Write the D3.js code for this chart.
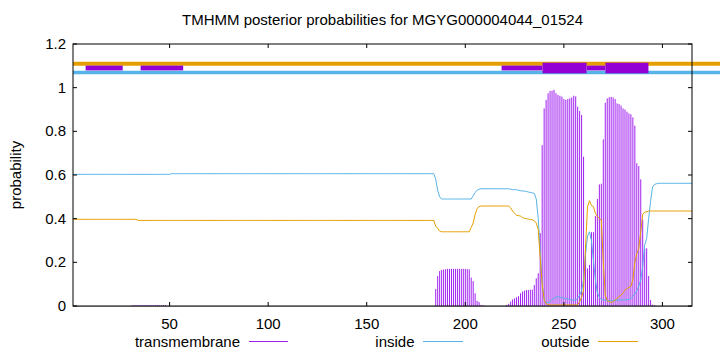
<!DOCTYPE html>
<html><head><meta charset="utf-8">
<script src="https://cdn.jsdelivr.net/npm/d3@7"></script>
<style>
html,body{margin:0;padding:0;background:#fff;}
svg{display:block;font-family:"Liberation Sans",Arial,sans-serif;}
</style></head>
<body><svg id="c" width="720" height="352"></svg>
<script>
const title = "TMHMM posterior probabilities for MGYG000004044_01524";
const xTicks = [50,100,150,200,250,300];
const yTicks = [0,0.2,0.4,0.6,0.8,1,1.2];
const legendNames = ["transmembrane","inside","outside"];

// per-residue transmembrane probability (residues 1..315)
const transmembrane = [
0,0,0,0,0,0,0,0,0,0,
0,0,0,0,0,0,0,0,0,0,
0,0,0,0,0,0,0,0,0,0,
.004,.004,.004,.004,.004,.004,.004,.004,.004,.004,
.004,.004,.004,.004,.004,.004,.004,.004,0,0,
0,0,0,0,0,0,0,0,0,0,
0,0,0,0,0,0,0,0,0,0,
0,0,0,0,0,0,0,0,0,0,
0,0,0,0,0,0,0,0,0,0,
0,0,0,0,0,0,0,0,0,0,
0,0,0,0,0,0,0,0,0,0,
0,0,0,0,0,0,0,0,0,0,
0,0,0,0,0,0,0,0,0,0,
0,0,0,0,0,0,0,0,0,0,
0,0,0,0,0,0,0,0,0,0,
0,0,0,0,0,0,0,0,0,0,
0,0,0,0,0,0,0,0,0,0,
0,0,0,0,0,0,0,0,0,0,
0,0,0,0,.078,.137,.16,.165,.167,.168,
.17,.17,.17,.17,.17,.17,.17,.17,.17,.17,
.169,.168,.13,.114,.058,.024,.018,.005,.003,.001,
0,0,0,0,0,0,0,0,0,0,
.005,.01,.02,.03,.035,.04,.045,.058,.066,.07,
.073,.073,.075,.075,.096,.127,.15,.334,.737,.905,
.944,.974,.985,.986,.99,.975,.967,.963,.959,.948,
.944,.948,.951,.955,.963,.96,.913,.893,.875,.684,
.276,.172,.188,.338,.338,.412,.49,.557,.56,.763,
.931,.951,.956,.958,.955,.948,.928,.925,.918,.905,
.9,.89,.882,.878,.864,.826,.654,.641,.58,.397,
.264,.264,.137,.027,.006,.003,0,0,0,0,
0,0,0,0,0,0,0,0,0,0,
0,0,0,0,0
];

// per-residue inside probability
const inside = [
.603,.603,.603,.603,.603,.603,.603,.603,.603,.603,
.603,.603,.603,.603,.603,.603,.603,.603,.603,.603,
.603,.603,.603,.603,.603,.603,.603,.603,.603,.603,
.603,.603,.603,.603,.603,.603,.603,.603,.603,.603,
.603,.603,.603,.603,.603,.603,.603,.603,.603,.603,
.606,.606,.606,.606,.606,.606,.606,.606,.606,.606,
.606,.606,.606,.606,.606,.606,.606,.606,.606,.606,
.606,.606,.606,.606,.606,.606,.606,.606,.606,.606,
.606,.606,.606,.606,.606,.606,.606,.606,.606,.606,
.606,.606,.606,.606,.606,.606,.606,.606,.606,.606,
.606,.606,.606,.606,.606,.606,.606,.606,.606,.606,
.606,.606,.606,.606,.606,.606,.606,.606,.606,.606,
.606,.606,.606,.606,.606,.606,.606,.606,.606,.606,
.606,.606,.606,.606,.606,.606,.606,.606,.606,.606,
.606,.606,.606,.606,.606,.606,.606,.606,.606,.606,
.606,.606,.606,.606,.606,.606,.606,.606,.606,.606,
.606,.606,.606,.606,.606,.606,.606,.606,.606,.606,
.606,.606,.606,.606,.606,.606,.606,.606,.606,.606,
.606,.606,.606,.606,.58,.53,.5,.49,.49,.49,
.49,.49,.49,.49,.49,.49,.49,.49,.49,.49,
.49,.49,.49,.505,.52,.53,.535,.537,.537,.537,
.537,.537,.537,.537,.537,.537,.537,.537,.537,.537,
.537,.537,.535,.533,.533,.532,.53,.528,.527,.526,
.525,.522,.52,.518,.516,.49,.4,.25,.1,.03,
.015,.015,.02,.03,.035,.04,.043,.04,.038,.035,
.035,.033,.03,.027,.027,.027,.035,.05,.07,.12,
.24,.32,.34,.3,.21,.12,.06,.04,.03,.028,
.027,.025,.025,.025,.026,.026,.027,.027,.028,.028,
.028,.029,.03,.035,.045,.055,.07,.09,.12,.18,
.28,.31,.4,.48,.545,.557,.56,.562,.562,.562,
.562,.562,.562,.562,.562,.562,.562,.562,.562,.562,
.562,.562,.562,.562,.562
];

// per-residue outside probability
const outside = [
.397,.397,.397,.397,.397,.397,.397,.397,.397,.397,
.397,.397,.397,.397,.397,.397,.397,.397,.397,.397,
.397,.397,.397,.397,.397,.397,.397,.397,.397,.397,
.397,.397,.397,.392,.392,.392,.392,.392,.392,.392,
.392,.392,.392,.392,.392,.392,.392,.392,.392,.392,
.392,.392,.392,.392,.392,.392,.392,.392,.392,.392,
.392,.392,.392,.392,.392,.392,.392,.392,.392,.392,
.392,.392,.392,.392,.392,.392,.392,.392,.392,.392,
.392,.392,.392,.392,.392,.392,.392,.392,.392,.392,
.392,.392,.392,.392,.392,.392,.392,.392,.392,.392,
.392,.392,.392,.392,.392,.392,.392,.392,.392,.392,
.392,.392,.392,.392,.392,.392,.392,.392,.392,.392,
.392,.392,.392,.392,.392,.392,.392,.392,.392,.392,
.392,.392,.392,.392,.392,.392,.392,.392,.392,.392,
.392,.392,.392,.392,.392,.392,.392,.392,.392,.392,
.392,.392,.392,.392,.392,.392,.392,.392,.392,.392,
.392,.392,.392,.392,.392,.392,.392,.392,.392,.392,
.392,.392,.392,.392,.392,.392,.392,.392,.392,.392,
.392,.392,.392,.392,.365,.356,.343,.34,.34,.34,
.34,.34,.34,.34,.34,.34,.34,.34,.34,.34,
.34,.34,.36,.38,.42,.447,.455,.458,.458,.458,
.458,.458,.458,.458,.458,.458,.458,.458,.458,.458,
.458,.458,.45,.435,.425,.415,.414,.412,.405,.402,
.4,.398,.396,.395,.39,.38,.35,.22,.1,.03,
.01,.006,.005,.005,.005,.005,.005,.005,.005,.005,
.005,.005,.005,.005,.005,.005,.005,.02,.04,.073,
.27,.455,.482,.46,.455,.425,.41,.4,.394,.2,
.05,.025,.02,.016,.02,.027,.035,.043,.05,.06,
.073,.08,.085,.09,.12,.2,.24,.264,.34,.42,
.43,.432,.435,.435,.435,.435,.435,.435,.435,.435,
.435,.435,.435,.435,.435,.435,.435,.435,.435,.435,
.435,.435,.435,.435,.435
];

// predicted topology strip at the top: [start, end] residue ranges
const outsideStripLevel = 1.11, insideStripLevel = 1.07;
const thinSegments = [[7.4,26.2],[35.3,56.9],[218.4,239.2],[261.5,271.1]];
const helixSegments = [[239.2,261.5],[271.1,292.9]];

const colTM = "#a020f0", colBox = "#9400d3", colIn = "#56b4e9", colOut = "#e69f00";

const svg = d3.select("#c");
const L = 73, R = 692, T = 44, B = 306;
const x = d3.scaleLinear().domain([1,315]).range([L,R]);
const y = d3.scaleLinear().domain([0,1.2]).range([B,T]);
const residues = transmembrane.map((d,i)=>i+1);
const FS = 15;

// title
svg.append("text").attr("x",(L+R)/2).attr("y",25).attr("text-anchor","middle")
  .attr("font-size",FS).text(title);
// y label
svg.append("text").attr("transform",`translate(21,${(T+B)/2}) rotate(-90)`)
  .attr("text-anchor","middle").attr("font-size",FS).text("probability");

// impulses
svg.append("g").selectAll("line").data(residues.filter(i=>transmembrane[i-1]>0)).join("line")
  .attr("x1",i=>x(i)).attr("x2",i=>x(i))
  .attr("y1",y(0)).attr("y2",i=>y(transmembrane[i-1]))
  .attr("stroke",colTM).attr("stroke-width",1);

const line = arr => d3.line().x(i=>x(i)).y(i=>y(arr[i-1]))(residues);
svg.append("path").attr("d",line(inside)).attr("fill","none").attr("stroke",colIn).attr("stroke-width",1);
svg.append("path").attr("d",line(outside)).attr("fill","none").attr("stroke",colOut).attr("stroke-width",1);

// topology strip
svg.append("line").attr("x1",L).attr("x2",720).attr("y1",y(outsideStripLevel)).attr("y2",y(outsideStripLevel))
  .attr("stroke",colOut).attr("stroke-width",4);
svg.append("line").attr("x1",L).attr("x2",720).attr("y1",y(insideStripLevel)).attr("y2",y(insideStripLevel))
  .attr("stroke",colIn).attr("stroke-width",3.5);
const midLevel = (outsideStripLevel+insideStripLevel)/2;
svg.append("g").selectAll("rect").data(thinSegments).join("rect")
  .attr("x",d=>x(d[0])).attr("width",d=>x(d[1])-x(d[0]))
  .attr("y",y(midLevel)-2.4).attr("height",4.8).attr("fill",colBox);
svg.append("g").selectAll("rect").data(helixSegments).join("rect")
  .attr("x",d=>x(d[0])).attr("width",d=>x(d[1])-x(d[0]))
  .attr("y",y(midLevel)-5.3).attr("height",10.6).attr("fill",colBox);

// border
svg.append("rect").attr("x",L).attr("y",T).attr("width",R-L).attr("height",B-T)
  .attr("fill","none").attr("stroke","#000").attr("stroke-width",1);
svg.append("line").attr("x1",L).attr("x2",R).attr("y1",B+0.5).attr("y2",B+0.5).attr("stroke","#555").attr("stroke-width",1);

// ticks (inward, mirrored) and labels
const tk = svg.append("g").attr("stroke","#000").attr("stroke-width",1);
xTicks.forEach(v=>{
  tk.append("line").attr("x1",x(v)).attr("x2",x(v)).attr("y1",B).attr("y2",B-4);
  tk.append("line").attr("x1",x(v)).attr("x2",x(v)).attr("y1",T).attr("y2",T+4);
});
yTicks.forEach(v=>{
  tk.append("line").attr("x1",L).attr("x2",L+4).attr("y1",y(v)).attr("y2",y(v));
  tk.append("line").attr("x1",R).attr("x2",R-4).attr("y1",y(v)).attr("y2",y(v));
});
svg.append("g").selectAll("text").data(xTicks).join("text")
  .attr("x",d=>x(d)).attr("y",329).attr("text-anchor","middle").attr("font-size",FS).text(d=>d);
svg.append("g").selectAll("text").data(yTicks).join("text")
  .attr("x",66).attr("y",d=>y(d)+5).attr("text-anchor","end").attr("font-size",FS).text(d=>d3.format("")(d));

// legend
const legX = [[240,249,288],[414.5,423,463],[589.5,598,638]];
const legCols = [colTM,colIn,colOut];
legendNames.forEach((n,k)=>{
  svg.append("text").attr("x",legX[k][0]).attr("y",346.5).attr("text-anchor","end").attr("font-size",FS).text(n);
  svg.append("line").attr("x1",legX[k][1]).attr("x2",legX[k][2]).attr("y1",341.5).attr("y2",341.5)
    .attr("stroke",legCols[k]).attr("stroke-width",1);
});
</script></body></html>
